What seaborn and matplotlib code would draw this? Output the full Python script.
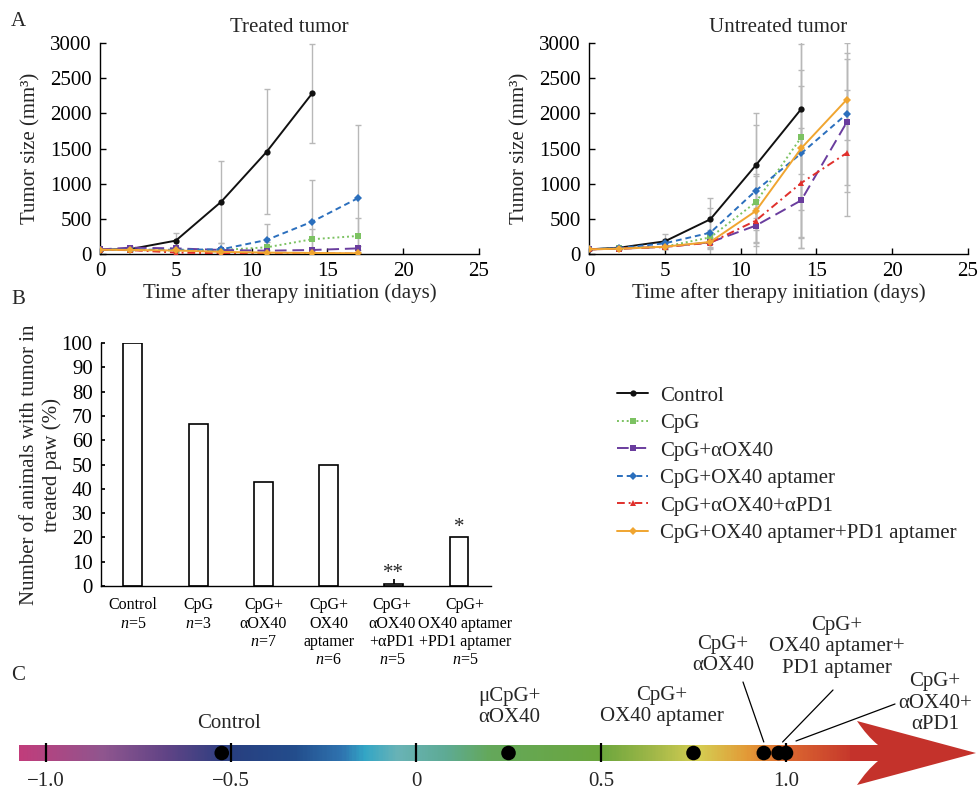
import numpy as np
import pandas as pd
import matplotlib
matplotlib.use("Agg")
import matplotlib.pyplot as plt
from matplotlib.colors import LinearSegmentedColormap, Normalize
from matplotlib.path import Path
from matplotlib.patches import PathPatch
from matplotlib.transforms import ScaledTranslation
import seaborn as sns

sns.set_theme(style="ticks")
plt.rcParams["font.family"] = ["Liberation Serif", "DejaVu Serif"]
plt.rcParams["mathtext.fontset"] = "custom"
plt.rcParams["mathtext.rm"] = "Liberation Serif"
plt.rcParams["mathtext.it"] = "Liberation Serif:italic"

# ---------------- data ----------------
groups = ["Control", "CpG", "CpG+αOX40", "CpG+OX40 aptamer",
          "CpG+αOX40+αPD1", "CpG+OX40 aptamer+PD1 aptamer"]
days = [0, 2, 5, 8, 11, 14, 17]

# treated tumour: mean size (mm3) and SD
treated_control = [60, 70, 190, 744, 1455, 2285]
treated_cpg = [60, 55, 50, 57, 95, 210, 256]
treated_aox40 = [65, 90, 80, 57, 47, 57, 80]
treated_ox40apt = [60, 62, 60, 66, 200, 460, 792]
treated_apd1 = [60, 55, 20, 10, 5, 5, 5]
treated_pd1apt = [60, 58, 50, 30, 20, 15, 10]

treated_control_sd = [10, 15, 105, 583, 890, 705]
treated_cpg_sd = [10, 10, 15, 20, 80, 150, 250]
treated_aox40_sd = [10, 20, 20, 15, 15, 20, 30]
treated_ox40apt_sd = [10, 15, 15, 85, 230, 590, 1040]
treated_apd1_sd = [10, 10, 10, 5, 3, 3, 3]
treated_pd1apt_sd = [10, 10, 10, 10, 5, 5, 5]

# untreated (contralateral) tumour
untreated_control = [66, 90, 180, 493, 1261, 2062]
untreated_cpg = [66, 80, 104, 237, 735, 1659]
untreated_aox40 = [66, 75, 100, 166, 403, 763, 1872]
untreated_ox40apt = [66, 85, 152, 303, 900, 1431, 1991]
untreated_apd1 = [66, 75, 100, 161, 474, 1010, 1436]
untreated_pd1apt = [66, 75, 104, 171, 611, 1503, 2195]

untreated_control_sd = [5, 15, 100, 310, 750, 930]
untreated_cpg_sd = [5, 10, 30, 100, 400, 1580]
untreated_aox40_sd = [5, 10, 30, 60, 250, 680, 990]
untreated_ox40apt_sd = [5, 15, 60, 346, 934, 1190, 1010]
untreated_apd1_sd = [5, 10, 30, 80, 300, 787, 900]
untreated_pd1apt_sd = [5, 10, 30, 100, 500, 880, 576]

# panel B: animals with tumour in treated paw (%)
bar_labels = ["Control\n$n$=5", "CpG\n$n$=3", "CpG+\nαOX40\n$n$=7",
              "CpG+\nOX40\naptamer\n$n$=6", "CpG+\nαOX40\n+αPD1\n$n$=5",
              "CpG+\nOX40 aptamer\n+PD1 aptamer\n$n$=5"]
bar_values = [100, 66.7, 42.9, 50, 1, 20]
bar_marks = ["", "", "", "", "**", "*"]

# panel C: position on the response scale
scale_labels = ["Control", "μCpG+\nαOX40", "CpG+\nOX40 aptamer", "CpG+\nαOX40",
                "CpG+\nOX40 aptamer+\nPD1 aptamer", "CpG+\nαOX40+\nαPD1"]
scale_values = [-0.525, 0.25, 0.75, 0.94, 0.98, 1.0]
scale_ticks = [-1.0, -0.5, 0, 0.5, 1.0]
scale_tick_labels = ["\u22121.0", "\u22120.5", "0", "0.5", "1.0"]

# ---------------- styles ----------------
palette = {"Control": "#111111", "CpG": "#7cc262", "CpG+αOX40": "#6a3d9e",
           "CpG+OX40 aptamer": "#2b6fbd", "CpG+αOX40+αPD1": "#e0302c",
           "CpG+OX40 aptamer+PD1 aptamer": "#f0a530"}
dashes = {"Control": "", "CpG": (1, 1.5), "CpG+αOX40": (6, 3),
          "CpG+OX40 aptamer": (3, 2), "CpG+αOX40+αPD1": (4, 2, 1, 2),
          "CpG+OX40 aptamer+PD1 aptamer": ""}
markers = {"Control": "o", "CpG": "s", "CpG+αOX40": "s",
           "CpG+OX40 aptamer": "D", "CpG+αOX40+αPD1": "^",
           "CpG+OX40 aptamer+PD1 aptamer": "D"}

FS = 15
W, H = 979, 790


def long_table(means):
    rows = []
    for g, vals in zip(groups, means):
        for d, v in zip(days, vals):
            rows.append((g, d, v))
    return pd.DataFrame(rows, columns=["group", "day", "size"])


fig = plt.figure(figsize=(W / 100, H / 100), dpi=100)


def growth_panel(rect, means, sds, title, legend):
    ax = fig.add_axes(rect)
    for g, m, s in zip(groups, means, sds):
        ax.errorbar(days[:len(m)], m, yerr=s, fmt="none", ecolor="#b8b8b8",
                    elinewidth=1.0, capsize=2, capthick=1.0, zorder=1)
    sns.lineplot(data=long_table(means), x="day", y="size", hue="group",
                 style="group", hue_order=groups, style_order=groups,
                 palette=palette, dashes=dashes, markers=markers,
                 markersize=4.5, markeredgewidth=0, linewidth=1.4,
                 errorbar=None, legend=legend, ax=ax, zorder=3)
    ax.set_xlim(0, 25)
    ax.set_ylim(0, 3000)
    ax.set_xticks(range(0, 26, 5))
    ax.set_yticks(range(0, 3001, 500))
    ax.tick_params(direction="in", length=4, width=1, labelsize=FS, pad=6,
                   colors="black")
    ax.set_xlabel("Time after therapy initiation (days)", fontsize=FS, labelpad=1)
    ax.set_ylabel("Tumor size (mm³)", fontsize=FS)
    ax.yaxis.set_label_coords(-0.158, 0.5)
    ax.set_title(title, fontsize=FS, pad=8)
    sns.despine(ax=ax)
    for sp in ("left", "bottom"):
        ax.spines[sp].set_color("black")
        ax.spines[sp].set_linewidth(1.0)
    return ax


axL = growth_panel([100 / W, 1 - 254 / H, 379 / W, 211 / H],
                   [treated_control, treated_cpg, treated_aox40,
                    treated_ox40apt, treated_apd1, treated_pd1apt],
                   [treated_control_sd, treated_cpg_sd, treated_aox40_sd,
                    treated_ox40apt_sd, treated_apd1_sd, treated_pd1apt_sd],
                   "Treated tumor", True)
axR = growth_panel([589 / W, 1 - 254 / H, 379 / W, 211 / H],
                   [untreated_control, untreated_cpg, untreated_aox40,
                    untreated_ox40apt, untreated_apd1, untreated_pd1apt],
                   [untreated_control_sd, untreated_cpg_sd, untreated_aox40_sd,
                    untreated_ox40apt_sd, untreated_apd1_sd, untreated_pd1apt_sd],
                   "Untreated tumor", False)

handles, labels = axL.get_legend_handles_labels()
axL.get_legend().remove()
fig.legend(handles, labels, loc="upper left",
           bbox_to_anchor=(617 / W, 1 - 386 / H), frameon=False, fontsize=FS,
           handlelength=1.5, handletextpad=0.55, labelspacing=0.38,
           borderpad=0, borderaxespad=0)

# ---------------- panel B ----------------
axB = fig.add_axes([101 / W, 1 - 586 / H, 390 / W, 243 / H])
sns.barplot(x=bar_labels, y=bar_values, color="white", edgecolor="black",
            linewidth=1.2, width=0.29, saturation=1, ax=axB)
for i, (v, mark) in enumerate(zip(bar_values, bar_marks)):
    if mark:
        axB.text(i, v + 4, mark, ha="center", va="center", fontsize=FS)
axB.set_xlim(-0.49, 5.49)
axB.set_ylim(0, 100)
axB.set_yticks(range(0, 101, 10))
axB.tick_params(axis="y", direction="in", length=3, labelsize=FS, pad=6,
                colors="black")
axB.tick_params(axis="x", direction="in", length=5, labelsize=11.5, pad=8,
                colors="black")
# nudge the last two category labels apart so they do not collide
tl = axB.get_xticklabels()
tl[-1].set_transform(tl[-1].get_transform()
                     + ScaledTranslation(6 / 100, 0, fig.dpi_scale_trans))
tl[-2].set_transform(tl[-2].get_transform()
                     + ScaledTranslation(-2 / 100, 0, fig.dpi_scale_trans))
axB.set_ylabel("Number of animals with tumor in\ntreated paw (%)",
               fontsize=FS, linespacing=1.25)
axB.yaxis.set_label_coords(-0.10, 0.5)
sns.despine(ax=axB)
for sp in ("left", "bottom"):
    axB.spines[sp].set_color("black")
    axB.spines[sp].set_linewidth(1.0)

# ---------------- panel C ----------------
PX0, PXU = 416, 370   # pixel of value 0 and pixels per unit


def v(px):
    return (px - PX0) / PXU


axC = fig.add_axes([0, 0, 1, 190 / H])
bar_top, bar_bot, bar_y = 745, 761, 753
scale_start, scale_end = v(19), v(862)

stops = [(-1.08, "#c23c7b"), (-0.85, "#8f568f"), (-0.68, "#614486"),
         (-0.5, "#283f80"), (-0.33, "#234d8c"), (-0.2, "#2f74b0"),
         (-0.14, "#33a6c6"), (-0.05, "#69b3b6"), (0.08, "#5eab95"),
         (0.2, "#64a85b"), (0.5, "#6ba63d"), (0.64, "#9fb748"),
         (0.77, "#d5cd52"), (0.9, "#e39a37"), (1.0, "#dd6c31"),
         (1.2, "#c4322b")]
pos = [(s - stops[0][0]) / (stops[-1][0] - stops[0][0]) for s, _ in stops]
cmap = LinearSegmentedColormap.from_list("response",
                                         list(zip(pos, [c for _, c in stops])))
grad = np.linspace(scale_start, scale_end, 600).reshape(1, -1)
axC.imshow(grad, cmap=cmap, norm=Normalize(stops[0][0], stops[-1][0]),
           extent=(scale_start, scale_end, bar_bot, bar_top), aspect="auto",
           interpolation="bilinear", zorder=1)

head = Path([(v(850), bar_top), (v(878), bar_top), (v(867), 736), (v(857), 721),
             (v(976), bar_y), (v(857), 785), (v(867), 770), (v(878), bar_bot),
             (v(850), bar_bot), (v(850), bar_top)],
            [Path.MOVETO, Path.LINETO, Path.CURVE3, Path.CURVE3, Path.LINETO,
             Path.LINETO, Path.CURVE3, Path.CURVE3, Path.LINETO, Path.CLOSEPOLY])
axC.add_patch(PathPatch(head, facecolor="#c4322b", edgecolor="none", zorder=1))

axC.vlines(scale_ticks, bar_top - 2, bar_bot + 1, color="black", lw=1.6, zorder=2)
for t, lab in zip(scale_ticks, scale_tick_labels):
    axC.text(t, 782, lab, ha="center", va="center", fontsize=FS)

sns.scatterplot(x=scale_values, y=[bar_y] * len(scale_values), color="black",
                s=110, edgecolor="none", ax=axC, zorder=3, legend=False)

label_pos = [(v(229), 723), (v(509), 707), (v(662), 706), (v(723), 655),
             (v(837), 647), (v(935), 703)]
for (x, y), lab in zip(label_pos, scale_labels):
    axC.text(x, y, lab, ha="center", va="center", fontsize=FS, linespacing=1.2)

# leader lines: label anchor -> dot
leaders = [(3, v(743), 682, 0, 742), (4, v(833), 690, 4, 742),
           (5, v(895), 704, 10, 741)]
for idx, x0, y0, dx, y1 in leaders:
    axC.plot([x0, scale_values[idx] + dx / PXU], [y0, y1], color="black",
             lw=0.9, zorder=4)

axC.set_xlim(v(0), v(W))
axC.set_ylim(H, 600)
axC.axis("off")

# panel letters
for letter, (x, y) in zip("ABC", [(18, 22), (18, 300), (18, 675)]):
    fig.text(x / W, 1 - y / H, letter, ha="center", va="center", fontsize=FS)

fig.savefig("out.png", dpi=100)
